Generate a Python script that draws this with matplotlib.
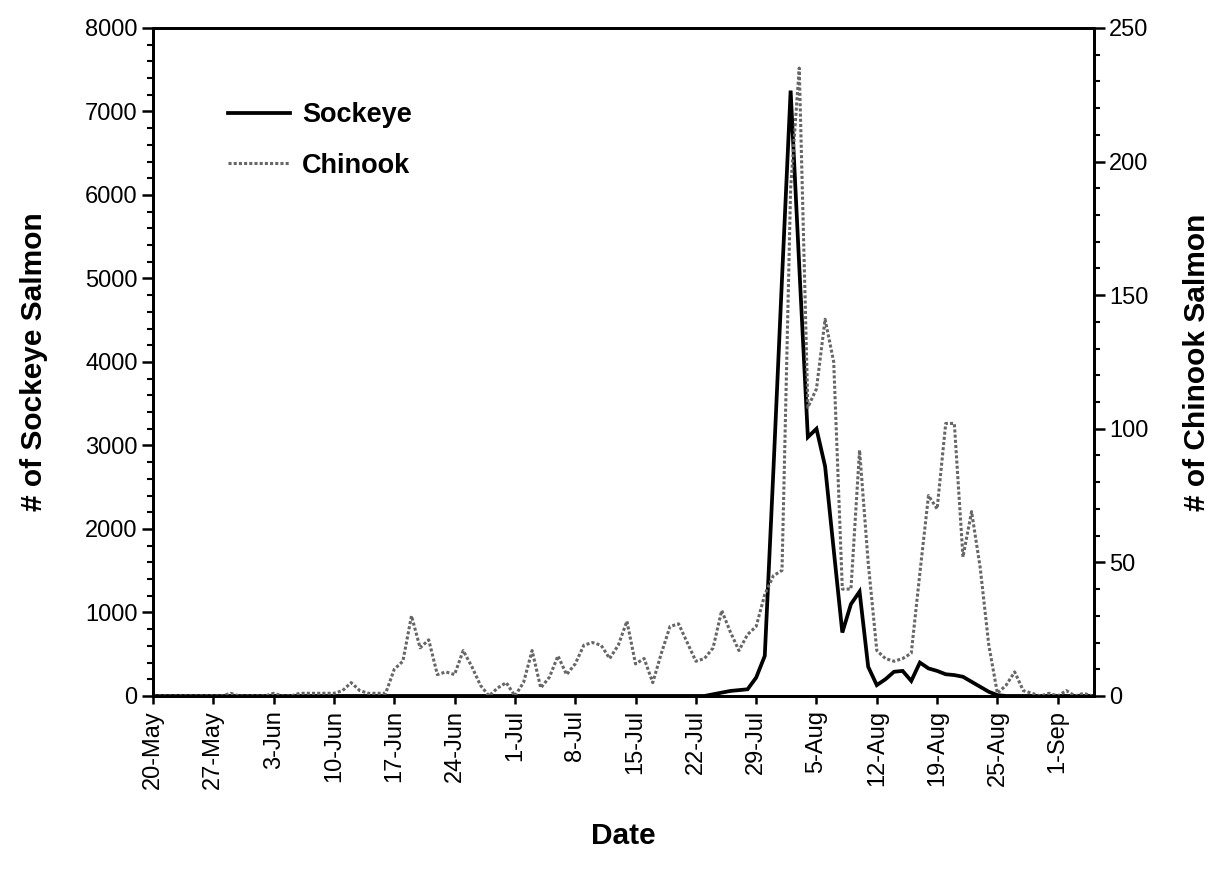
import matplotlib
matplotlib.use("Agg")
import matplotlib.pyplot as plt
from matplotlib.ticker import MultipleLocator, FixedLocator

plt.rcParams['font.family'] = ['Liberation Sans', 'DejaVu Sans']

# Day index (0 = 20 May) and daily counts
days = list(range(110))

sockeye = [0] * 65 + [
    20, 40, 60, 70, 80, 220, 480, 2700, 5000, 7250,      # 65-74
    5150, 3100, 3200, 2750, 1750, 760, 1100, 1250, 350, 130,  # 75-84
    200, 290, 300, 180, 400, 330, 300, 260, 250, 230,     # 85-94
    170, 110, 50, 10, 0, 0, 0, 0, 0, 0,                   # 95-104
    0, 0, 0, 0, 0,                                        # 105-109
]

chinook = [
    0, 0, 0, 0, 0, 0, 0, 0, 0, 1,          # 0-9
    0, 0, 0, 0, 1, 0, 0, 1, 1, 1,          # 10-19
    1, 1, 2, 5, 2, 1, 1, 1, 10, 13,        # 20-29
    30, 18, 21, 8, 9, 8, 17, 11, 4, 0,     # 30-39
    3, 5, 0, 5, 17, 3, 7, 15, 8, 12,       # 40-49
    19, 20, 19, 14, 19, 28, 12, 14, 5, 16, # 50-59
    26, 27, 20, 13, 14, 18, 32, 24, 17, 23,  # 60-69
    26, 38, 45, 47, 190, 235, 108, 115, 141, 125,  # 70-79
    40, 40, 92, 50, 17, 14, 13, 14, 16, 46,  # 80-89
    75, 70, 102, 102, 52, 69, 48, 19, 1, 4,  # 90-99
    9, 2, 1, 0, 1, 0, 2, 0, 1, 0,          # 100-109
]

tick_days = [0, 7, 14, 21, 28, 35, 42, 49, 56, 63, 70, 77, 84, 91, 98, 105]
tick_labels = ["20-May", "27-May", "3-Jun", "10-Jun", "17-Jun", "24-Jun",
               "1-Jul", "8-Jul", "15-Jul", "22-Jul", "29-Jul", "5-Aug",
               "12-Aug", "19-Aug", "25-Aug", "1-Sep"]

fig = plt.figure(figsize=(12.22, 8.74), dpi=100)
ax = fig.add_axes([0.1252, 0.2037, 0.7700, 0.7643])
ax2 = ax.twinx()

ln_s, = ax.plot(days, sockeye, color='black', lw=2.7, solid_joinstyle='miter',
                label='Sockeye', zorder=3)
ln_c, = ax2.plot(days, chinook, color='#666666', lw=2.2,
                 linestyle=(0, (1.0, 0.7)), label='Chinook', zorder=2)

ax.set_xlim(0, 109.2)
ax.set_ylim(0, 8000)
ax2.set_ylim(0, 250)

ax.yaxis.set_major_locator(MultipleLocator(1000))
ax.yaxis.set_minor_locator(MultipleLocator(200))
ax2.yaxis.set_major_locator(MultipleLocator(50))
ax2.yaxis.set_minor_locator(MultipleLocator(10))
ax.xaxis.set_major_locator(FixedLocator(tick_days))
ax.set_xticklabels(tick_labels, rotation=90)

for a in (ax, ax2):
    for sp in a.spines.values():
        sp.set_linewidth(2.0)
    a.tick_params(which='major', direction='out', length=8, width=1.8,
                  labelsize=17, pad=3)
    a.tick_params(which='minor', direction='out', length=4.5, width=1.5)
ax.tick_params(axis='x', which='major', length=6, pad=4)

ax.set_xlabel('Date', fontsize=21.5, fontweight='bold', labelpad=24)
ax.set_ylabel('# of Sockeye Salmon', fontsize=21.5, fontweight='bold',
              labelpad=27)
ax2.set_ylabel('# of Chinook Salmon', fontsize=21.5, fontweight='bold',
               rotation=90, labelpad=25)

leg = ax.legend(handles=[ln_s, ln_c], loc='upper left',
                bbox_to_anchor=(0.068, 0.905), frameon=False,
                prop={'weight': 'bold', 'size': 19.5}, handlelength=2.3,
                handletextpad=0.45, labelspacing=0.9, borderaxespad=0)

fig.savefig('out.png', dpi=100)
